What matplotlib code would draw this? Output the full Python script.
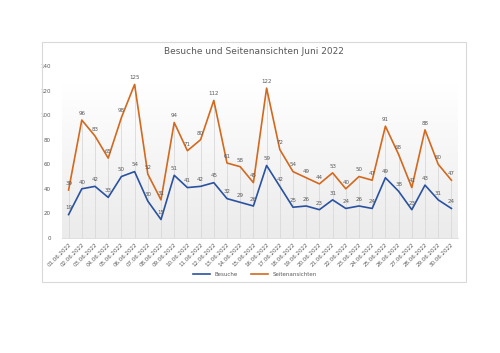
import matplotlib.pyplot as plt
import numpy as np
from matplotlib.patches import Rectangle

# Daten Juni 2022
tage = ['%02d.06.2022' % d for d in range(1, 31)]
besuche = [19, 40, 42, 33, 50, 54, 30, 15, 51, 41, 42, 45, 32, 29, 26,
           59, 42, 25, 26, 23, 31, 24, 26, 24, 49, 38, 23, 43, 31, 24]
seitenansichten = [39, 96, 83, 65, 98, 125, 52, 31, 94, 71, 80, 112, 61, 58, 45,
                   122, 72, 54, 49, 44, 53, 40, 50, 47, 91, 68, 41, 88, 60, 47]

blau = '#2a52a0'
orange = '#d2691e'
grau = '#595959'

fig = plt.figure(figsize=(5.0, 3.53), dpi=100)
fig.patches.append(Rectangle((42 / 500, 1 - 282 / 353), 424 / 500, 240 / 353,
                             transform=fig.transFigure, fill=False,
                             edgecolor='#d9d9d9', linewidth=0.8))

ax = fig.add_axes([0.124, 0.326, 0.792, 0.487])
x = np.arange(len(tage))

# gradient background of plot area (grey at bottom, white at top)
grad = np.linspace(0.0, 1.0, 256).reshape(-1, 1)
ax.imshow(grad, cmap=plt.matplotlib.colors.LinearSegmentedColormap.from_list(
    'g', ['#ebebeb', '#ffffff']), aspect='auto', extent=(-0.5, 29.5, 0, 125),
    origin='lower', zorder=0)

# drop lines
ax.vlines(x, 0, np.maximum(besuche, seitenansichten), color='#d9d9d9', lw=0.6, zorder=1)

ax.plot(x, besuche, color=blau, lw=1.2, label='Besuche', zorder=3)
ax.plot(x, seitenansichten, color=orange, lw=1.2, label='Seitenansichten', zorder=3)

for xi, v in zip(x, besuche):
    ax.annotate(str(v), (xi, v), xytext=(0, 3), textcoords='offset points',
                ha='center', va='bottom', fontsize=4, color=grau, zorder=4)
for xi, v in zip(x, seitenansichten):
    ax.annotate(str(v), (xi, v), xytext=(0, 3), textcoords='offset points',
                ha='center', va='bottom', fontsize=4, color=grau, zorder=4)

ax.set_xlim(-0.5, 29.5)
ax.set_ylim(0, 140)
ax.set_yticks(range(0, 141, 20))
ax.set_xticks(x)
ax.set_xticklabels(tage, rotation=45, ha='right', rotation_mode='anchor')
ax.tick_params(axis='both', labelsize=4, colors=grau, length=0)
ax.tick_params(axis='y', pad=8)
ax.tick_params(axis='x', pad=3)
for s in ['top', 'right', 'left']:
    ax.spines[s].set_visible(False)
ax.spines['bottom'].set_color('#d9d9d9')
ax.spines['bottom'].set_linewidth(0.6)

fig.text(0.508, 1 - 52 / 353, 'Besuche und Seitenansichten Juni 2022',
         ha='center', va='center', fontsize=6.5, color=grau)

fig.legend(loc='center', bbox_to_anchor=(0.51, 1 - 274 / 353), ncol=2,
           fontsize=4, frameon=False, labelcolor=grau, handlelength=3,
           columnspacing=2.5)

plt.savefig('out.png', dpi=100)
